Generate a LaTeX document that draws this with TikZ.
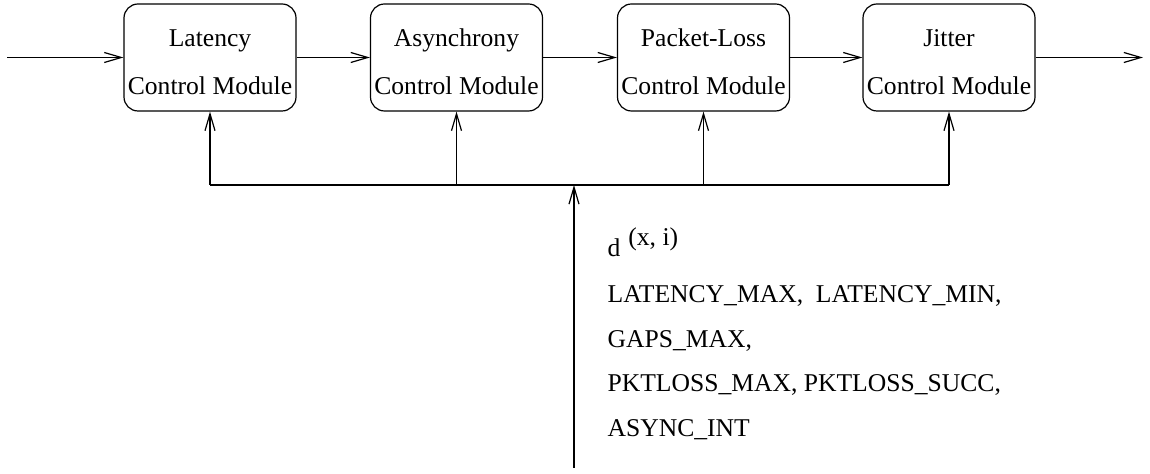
\documentclass[tikz,border=0pt]{standalone}
\usepackage{fontspec}
\setmainfont{Liberation Serif}
\usepackage{tikz}
\usetikzlibrary{arrows.meta}

\begin{document}
\begin{tikzpicture}[x=0.5pt,y=-0.5pt,line width=0.6pt,
  >={Straight Barb[length=8.5pt,width=5pt]},
  module/.style={draw,rounded corners=7pt,minimum width=86pt,minimum height=53.5pt,
    align=center,inner sep=1pt,text height=37pt,font=\fontsize{12.8}{24}\selectfont},
  param/.style={anchor=base west,inner sep=0pt,font=\fontsize{12.8}{15}\selectfont}]
  \useasboundingbox (0,0) rectangle (1150,474);
  \node[module] (lat) at (210,57.5) {Latency\\Control Module};
  \node[module] (asy) at (456.5,57.5) {Asynchrony\\Control Module};
  \node[module] (pkt) at (703.5,57.5) {Packet-Loss\\Control Module};
  \node[module] (jit) at (949,57.5) {Jitter\\Control Module};
  \coordinate (in) at (7,57.5);
  \coordinate (out) at (1143,57.5);
  \coordinate (src) at (574,468);
  \coordinate (bus) at (574,185);
  \draw[->] (in) -- (lat);
  \draw[->] (lat) -- (asy);
  \draw[->] (asy) -- (pkt);
  \draw[->] (pkt) -- (jit);
  \draw[->] (jit) -- (out);
  \draw (lat.south |- bus) -- (jit.south |- bus);
  \foreach \m in {lat,asy,pkt,jit}
    \draw[->] (\m.south |- bus) -- (\m.south);
  \draw[->] (src) -- (bus);
  \node[param] (dxi) at (607,257) {d\hspace{4pt}\raisebox{5.5pt}{(x, i)}};
  \node[param] (lmax) at (607,303) {LATENCY\_MAX,\ \ LATENCY\_MIN,};
  \node[param] (gmax) at (607,347.5) {GAPS\_MAX,};
  \node[param] (pmax) at (607,392) {PKTLOSS\_MAX, PKTLOSS\_SUCC,};
  \node[param] (aint) at (607,436.5) {ASYNC\_INT};
\end{tikzpicture}
\end{document}
